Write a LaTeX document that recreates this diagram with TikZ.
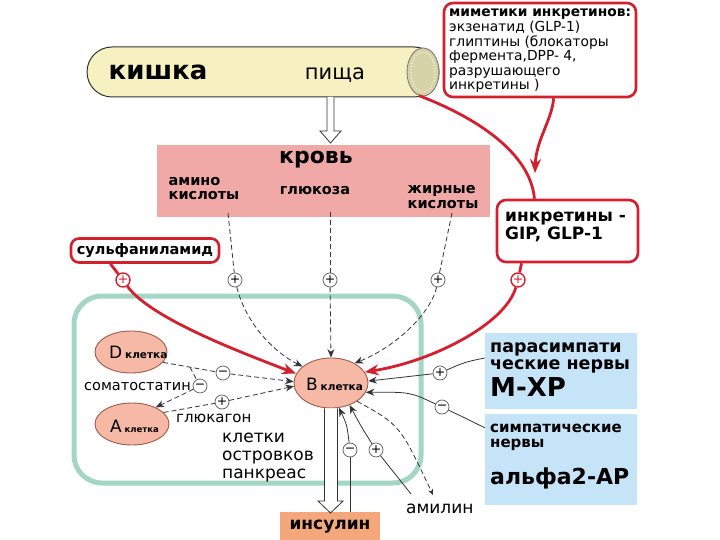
\documentclass[tikz,border=0pt]{standalone}
\usepackage{fontspec}
\setmainfont{DejaVu Sans}
\usetikzlibrary{arrows.meta,shapes.geometric,calc}
\definecolor{myred}{HTML}{D41F2E}
\definecolor{gutfill}{HTML}{F7F1C1}
\definecolor{gutend}{HTML}{D6D3A6}
\definecolor{bloodfill}{HTML}{F0A9A7}
\definecolor{isletc}{HTML}{A3D6C4}
\definecolor{cellfill}{HTML}{F5B9A5}
\definecolor{cellline}{HTML}{9E5A4A}
\definecolor{nervefill}{HTML}{C6E4F7}
\definecolor{insfill}{HTML}{F4A77A}
\definecolor{lncol}{HTML}{333333}
\newcommand{\fsz}[2]{\fontsize{#1}{#2}\selectfont}
\begin{document}
\begin{tikzpicture}[x=1pt,y=-1pt,
  sgn/.style={circle,draw=lncol!80,fill=white,line width=0.7pt,inner sep=0pt,minimum size=14pt,font=\fsz{12.5}{12}},
  rsgn/.style={sgn,draw=myred,text=myred,line width=1.4pt},
  redbox/.style={draw=myred,line width=2.6pt,rounded corners=9pt,fill=white},
  cellnode/.style={ellipse,draw=cellline,fill=cellfill,line width=0.9pt,inner sep=0pt},
  dconn/.style={draw=lncol,line width=0.8pt,dash pattern=on 5pt off 3pt},
  sconn/.style={draw=lncol,line width=0.8pt},
  rconn/.style={draw=myred,line width=2.8pt},
  arr/.style={-{Stealth[length=8.5pt,width=7pt]}},
  rarr/.style={-{Stealth[length=14pt,width=11pt]}},
  hollow/.style={draw=lncol,fill=white,line width=0.8pt},
  txt/.style={inner sep=0pt},
]
\useasboundingbox (0,0) rectangle (720,540);
\fill[white] (0,0) rectangle (720,540);

% intestine
\node[draw=lncol,line width=1pt,fill=gutfill,rounded corners=25pt,minimum width=352pt,minimum height=50pt,inner sep=0pt] (gut) at (263,72) {};
\node[ellipse,draw=lncol!70,fill=gutend,minimum width=32pt,minimum height=48pt,inner sep=0pt,line width=0.8pt] (gutend) at (423,72) {};
\draw[white,dotted,line width=1pt] (gutend.center) ellipse (12pt and 20pt);
\node[txt,font=\fsz{26}{28}\bfseries] (kishka) at (158,72) {кишка};
\node[txt,font=\fsz{21}{24}] (food) at (335,75) {пища};

% mimetics box
\node[redbox,minimum width=192pt,minimum height=94pt] (mim) at (540,50) {};
\node[txt,anchor=north west,align=left,font=\fsz{13.8}{14.6}] (mimtext) at (449,9) {\textbf{миметики инкретинов:}\\экзенатид (GLP-1)\\глиптины (блокаторы\\фермента,DPP- 4,\\разрушающего\\инкретины )};

% blood
\node[fill=bloodfill,minimum width=333pt,minimum height=72pt,inner sep=0pt] (blood) at (323.5,181) {};
\node[txt,font=\fsz{22}{24}\bfseries] (krov) at (316,160) {кровь};
\node[txt,font=\fsz{14.5}{14}\bfseries,align=left] (amino) at (204,189) {амино\\кислоты};
\node[txt,font=\fsz{14.5}{14}\bfseries] (gluc) at (315,191) {глюкоза};
\node[txt,font=\fsz{14.5}{15}\bfseries,align=left] (fat) at (443,197) {жирные\\кислоты};

% hollow arrow gut -> blood
\draw[hollow] (327,97) -- (327,131) -- (320,131) -- (330.5,143) -- (341,131) -- (334,131) -- (334,97);

% incretins
\node[redbox,minimum width=141pt,minimum height=62pt] (incr) at (567.5,231) {};
\node[txt,anchor=base west,font=\fsz{17}{19}\bfseries] (incr1) at (505,222) {инкретины -};
\node[txt,anchor=base west,font=\fsz{17}{19}\bfseries] (incr2) at (505,240) {GIP, GLP-1};

% sulfanilamide
\node[redbox,minimum width=148pt,minimum height=24pt,rounded corners=8pt,font=\fsz{14.5}{16}\bfseries,inner sep=2pt] (sulfa) at (145,250.5) {сульфаниламид};

% islet
\node[draw=isletc,line width=5pt,rounded corners=28pt,minimum width=347pt,minimum height=187pt,inner sep=0pt] (islet) at (247.5,389.5) {};

% cells
\node[cellnode,minimum width=72pt,minimum height=42pt] (D) at (131,352) {};
\node[txt,anchor=west] (Dl) at (109,352) {\fsz{17}{17}D\,\fsz{10.5}{11}\bfseries клетка};
\node[cellnode,minimum width=74pt,minimum height=42pt] (A) at (132,424) {};
\node[txt,anchor=west] (Al) at (110,426) {\fsz{17}{17}A\,\fsz{8.5}{9}\bfseries клетка};
\node[cellnode,minimum width=74pt,minimum height=50pt] (B) at (331,383) {};
\node[txt,anchor=west] (Bl) at (306,384) {\fsz{17}{17}B\,\fsz{10.5}{11}\bfseries клетка};

\node[txt,anchor=east,font=\fsz{14.5}{16}] (somat) at (191,387) {соматостатин};
\node[txt,anchor=west,font=\fsz{15}{16}] (glucagon) at (176,418) {глюкагон};
\node[txt,anchor=base west,font=\fsz{17}{18}] (isl1) at (222,442) {клетки};
\node[txt,anchor=base west,font=\fsz{17}{18}] (isl2) at (222,460) {островков};
\node[txt,anchor=base west,font=\fsz{17}{18}] (isl3) at (222,478) {панкреас};

% nerves
\node[fill=nervefill,minimum width=152pt,minimum height=76pt,inner sep=0pt] (para) at (561,371) {};
\node[fill=nervefill,minimum width=152pt,minimum height=91pt,inner sep=0pt] (symp) at (561,459.5) {};
\node[txt,anchor=base west,font=\fsz{17.5}{17}\bfseries] (pa1) at (490,352) {парасимпати};
\node[txt,anchor=base west,font=\fsz{17.5}{17}\bfseries] (pa2) at (490,369) {ческие нервы};
\node[txt,anchor=base west,font=\fsz{26}{26}\bfseries] (pa3) at (490,396) {М-ХР};
\node[txt,anchor=base west,font=\fsz{15}{16}\bfseries] (sy1) at (490,432) {симпатические};
\node[txt,anchor=base west,font=\fsz{15}{16}\bfseries] (sy2) at (490,447) {нервы};
\node[txt,anchor=base west,font=\fsz{22}{24}\bfseries] (sy3) at (490,484) {альфа2-АР};

% insulin, amylin
\node[fill=insfill,minimum width=100pt,minimum height=30pt,inner sep=0pt,font=\fsz{17}{18}\bfseries] (ins) at (330,527) {инсулин};
\node[txt,anchor=base west,font=\fsz{17}{18}] (amil) at (406,513) {амилин};

% hollow arrow B -> insulin
\draw[hollow] ($(B.south)+(-6.5,0)$) -- (324.5,501) -- (318,501) -- (330.5,513) -- (343,501) -- (337.5,501) -- ($(B.south)+(6.5,0)$);

% sign circles
\node[rsgn] (ps) at (123,280) {+};
\node[sgn] (pa) at (235,280) {+};
\node[sgn] (pg) at (330,280) {+};
\node[sgn] (pf) at (438,280) {+};
\node[rsgn] (pi) at (518,280) {+};
\node[sgn] (m1) at (223,373) {−};
\node[sgn] (m2) at (200,386) {−};
\node[sgn] (pA) at (222,402) {+};
\node[sgn] (pp) at (440,373) {+};
\node[sgn] (ms) at (442,407) {−};
\node[sgn] (mi) at (350,450) {−};
\node[sgn] (pm) at (376,450) {+};

% red connectors
\draw[rconn] (gutend.-100) .. controls (470,115) and (530,150) .. ($(incr.north west)!0.27!(incr.north east)$);
\coordinate (mimend) at (535,173);
\draw[rconn,rarr] ($(mim.south west)!0.57!(mim.south east)$) .. controls (552,120) and (536,140) .. (mimend);
\draw[rconn] ($(sulfa.south west)!0.27!(sulfa.south east)$) -- (ps);
\draw[rconn,rarr] (ps) .. controls (150,318) and (240,352) .. (B.165);
\draw[rconn] ($(incr.south west)!0.18!(incr.south east)$) -- (pi);
\draw[rconn,rarr] (pi) .. controls (505,325) and (430,362) .. (B.18);

% dashed from blood
\coordinate (sa) at (228,213);
\coordinate (sg) at (330,212);
\coordinate (sf) at (452,213);
\draw[dconn] (sa) -- (pa);
\draw[dconn,arr] (pa) .. controls (245,320) and (270,350) .. (B.150);
\draw[dconn] (sg) -- (pg);
\draw[dconn,arr] (pg) -- (B.north);
\draw[dconn] (sf) -- (pf);
\draw[dconn,arr] (pf) .. controls (432,310) and (400,345) .. (B.40);

% D, A cells
\draw[dconn] (D.-18) -- (m1);
\draw[dconn,arr] (m1) -- (B.178);
\coordinate (dbr) at ($(D.-18)!0.45!(m1)$);
\draw[dconn] (dbr) -- (m2);
\draw[dconn,arr] (m2) -- (A.35);
\draw[dconn] (A.20) -- (pA);
\draw[dconn,arr] (pA) -- (B.185);

% nerves
\draw[sconn] ($(para.west)+(0,-13)$) .. controls (465,362) .. (pp);
\draw[sconn,arr] (pp) -- (B.3);
\draw[sconn] ($(symp.north west)+(0,14)$) .. controls (465,418) .. (ms);
\draw[sconn,arr] (ms) .. controls (410,392) .. (B.-15);

% bottom
\draw[sconn] ($(ins.north)+(20,0)$) -- (mi);
\draw[sconn,arr] (mi) .. controls (347,425) .. (B.-72);
\coordinate (ams) at (411,494);
\draw[sconn] (ams) -- (pm);
\draw[sconn,arr] (pm) .. controls (362,428) .. (B.-50);
\coordinate (amtip) at (433,495);
\draw[dconn,-{Stealth[length=6pt,width=5pt]}] (B.-35) .. controls (400,425) .. (amtip);
\end{tikzpicture}
\end{document}
